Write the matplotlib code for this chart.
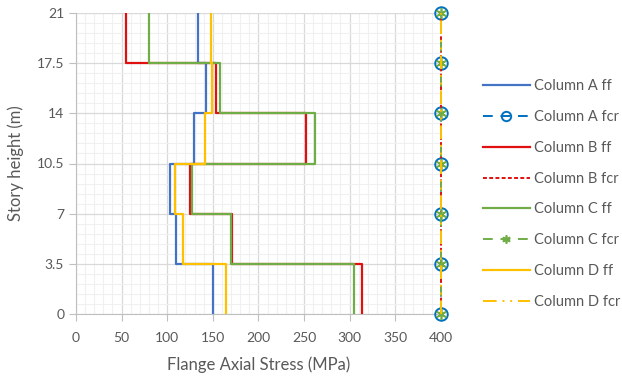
import numpy as np
import matplotlib
matplotlib.use("Agg")
import matplotlib.pyplot as plt
from matplotlib.ticker import MultipleLocator

# Story boundaries (m)
levels = [0, 3.5, 7, 10.5, 14, 17.5, 21]
# Flange axial stress per story segment (MPa), bottom to top
col_a_ff = [150, 110, 103, 129, 143, 134]
col_b_ff = [314, 171, 125, 252, 153, 55]
col_c_ff = [305, 170, 127, 262, 158, 80]
col_d_ff = [164, 117, 109, 141, 149, 148]
# Critical stress at each level (MPa)
col_a_fcr = [400, 400, 400, 400, 400, 400, 400]
col_b_fcr = [400, 400, 400, 400, 400, 400, 400]
col_c_fcr = [400, 400, 400, 400, 400, 400, 400]
col_d_fcr = [400, 400, 400, 400, 400, 400, 400]

xticks = [0, 50, 100, 150, 200, 250, 300, 350, 400]
yticks = [0, 3.5, 7, 10.5, 14, 17.5, 21]
ytick_labels = ["0", "3.5", "7", "10.5", "14", "17.5", "21"]

plt.rcParams['font.family'] = ['Lato', 'DejaVu Sans']

def step_xy(vals):
    y = np.repeat(levels, 2)[1:-1]
    x = np.repeat(vals, 2)
    return x, y

fig = plt.figure(figsize=(6.22, 3.76), dpi=100)
ax = fig.add_axes([76/622, 1-314/376, (440.8-76)/622, (314-13)/376])

blue = "#4472C4"
blue2 = "#0070C0"
red = "#E01010"
green = "#70AD47"
yellow = "#FFC000"

lw = 1.6
x, y = step_xy(col_a_ff)
ax.plot(x, y, color=blue, lw=lw, label="Column A ff", zorder=3)
ax.plot(col_a_fcr, levels, color=blue2, lw=1.4, ls=(0, (5, 4)), marker='o', ms=9,
        mfc='none', mec=blue2, mew=1.4, label="Column A fcr", zorder=3, clip_on=False)
x, y = step_xy(col_b_ff)
ax.plot(x, y, color=red, lw=lw, label="Column B ff", zorder=3)
ax.plot(col_b_fcr, levels, color=red, lw=1.4, ls=(0, (2, 1.2)), label="Column B fcr",
        zorder=3, clip_on=False)
x, y = step_xy(col_c_ff)
ax.plot(x, y, color=green, lw=lw, label="Column C ff", zorder=3)
ax.plot(col_c_fcr, levels, color=green, lw=1.4, ls=(0, (5, 4)), marker=(6, 2, 0), ms=8,
        mec=green, mew=1.2, label="Column C fcr", zorder=3, clip_on=False)
x, y = step_xy(col_d_ff)
ax.plot(x, y, color=yellow, lw=lw, label="Column D ff", zorder=3)
ax.plot(col_d_fcr, levels, color=yellow, lw=1.4, ls=(0, (7, 3, 1, 3, 1, 3)),
        label="Column D fcr", zorder=3, clip_on=False)

ax.set_xlim(0, 400)
ax.set_ylim(0, 21)
ax.set_xticks(xticks)
ax.set_yticks(yticks)
ax.set_yticklabels(ytick_labels)
ax.xaxis.set_minor_locator(MultipleLocator(10))
ax.yaxis.set_minor_locator(MultipleLocator(0.7))
ax.grid(which='major', color='#D9D9D9', lw=0.9, zorder=0)
ax.grid(which='minor', color='#F0F0F0', lw=0.8, zorder=0)
ax.set_axisbelow(True)
for s in ['top', 'right']:
    ax.spines[s].set_visible(False)
ax.spines['left'].set_color('#BFBFBF')
ax.spines['bottom'].set_color('#BFBFBF')
ax.tick_params(which='major', length=5, color='#BFBFBF', labelcolor='#595959', labelsize=10)
ax.tick_params(which='minor', length=0)
ax.tick_params(axis='x', pad=8)
ax.set_xlabel("Flange Axial Stress (MPa)", color='#595959', fontsize=12, labelpad=9)
ax.set_ylabel("Story height (m)", color='#595959', fontsize=12, labelpad=9)

leg = fig.legend(loc='center left', bbox_to_anchor=(470/622, 1-194/376), frameon=False,
                 fontsize=10.5, handlelength=3.2, labelspacing=1.15, handletextpad=0.3,
                 labelcolor='#595959', markerscale=0.75)
fig.savefig("out.png", dpi=100)
